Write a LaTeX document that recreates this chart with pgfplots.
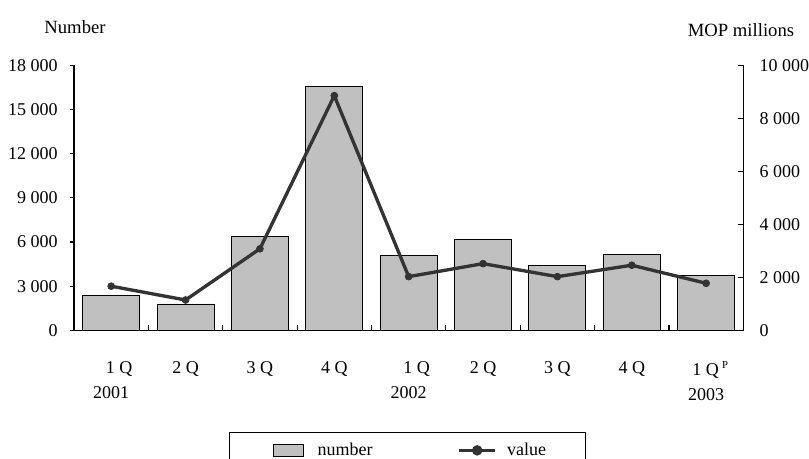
\documentclass[border=0pt]{standalone}
\usepackage{pgfplots}
\pgfplotsset{compat=1.18}
\usepackage{fontspec}
\setmainfont{Liberation Serif}

\definecolor{barfill}{HTML}{C0C0C0}
\definecolor{linecol}{HTML}{333333}

\begin{document}
\begin{tikzpicture}[font=\fontsize{13.5}{16}\selectfont]
% bars: number (left axis)
\begin{axis}[
  at={(0,0)}, anchor=south west,
  scale only axis, width=502pt, height=199pt,
  xmin=-0.5, xmax=8.5, ymin=0, ymax=18000,
  enlargelimits=false,
  axis y line*=left, axis x line*=bottom,
  axis line style={black, line width=0.9pt},
  tick align=outside, major tick length=3pt,
  tick style={black, line width=0.9pt},
  xtick={0,...,8},
  xticklabels={{\hspace*{12pt}1 Q\\2001},{2 Q},{3 Q},{4 Q},{\hspace*{12pt}1 Q\\2002},{2 Q},{3 Q},{4 Q},{\hspace*{6pt}1 Q\hspace{2.5pt}\raisebox{5pt}{\fontsize{8}{8}\selectfont P}\\2003}},
  x tick style={draw=none},
  x tick label style={align=center, font=\fontsize{13.5}{18.75}\selectfont, yshift=-17pt},
  ytick={0,3000,...,18000},
  y tick label style={xshift=-5.7pt},
  scaled y ticks=false,
  /pgf/number format/assume math mode=true,
  /pgf/number format/1000 sep={\ },
  ticklabel style={font=\fontsize{13.5}{16}\selectfont},
]
\addplot[ybar, bar width=42.75pt, bar shift=0pt, fill=barfill, draw=black, line width=0.7pt]
  coordinates {
  (0, 2360) (1, 1800) (2, 6360) (3, 16540) (4, 5120)
  (5, 6190) (6, 4380) (7, 5140) (8, 3700)
  };
\end{axis}

% line: value (right axis)
\begin{axis}[
  at={(0,0)}, anchor=south west,
  scale only axis, width=502pt, height=199pt,
  xmin=-0.5, xmax=8.5, ymin=0, ymax=10000,
  enlargelimits=false,
  axis y line*=right, axis x line*=bottom,
  axis line style={black, line width=0.9pt},
  tick align=inside, major tick length=4pt,
  tick style={black, line width=0.9pt},
  xtick={0.5,1.5,...,7.5}, xticklabels={},
  ytick={0,2000,...,10000},
  y tick label style={xshift=8.7pt},
  scaled y ticks=false,
  /pgf/number format/assume math mode=true,
  /pgf/number format/1000 sep={\ },
  ticklabel style={font=\fontsize{13.5}{16}\selectfont},
  legend columns=4,
  legend style={at={(axis description cs:0.2316,-0.3824)}, anchor=north west,
    draw=black, line width=0.75pt, inner xsep=0pt, inner ysep=8pt,
    column sep=0pt, nodes={inner sep=0pt},
    font=\fontsize{13.5}{16}\selectfont},
]
\addlegendimage{legend image code/.code={
  \path[draw=none, fill=none] (0pt,0pt) -- (66pt,0pt);
  \draw[fill=barfill, draw=black, line width=0.6pt] (33pt,-4.5pt) rectangle (55.5pt,4.5pt);}}
\addlegendentry{\makebox[105pt][l]{number}}
\addplot[color=linecol, line width=2.5pt, mark=*, mark size=2.6pt,
  mark options={fill=linecol, draw=linecol, line width=0.5pt},
  legend image code/.code={
    \path[draw=none, fill=none] (0pt,0pt) -- (36pt,0pt);
    \draw[linecol, line width=2.5pt] (0pt,0pt) -- (27pt,0pt);
    \fill[linecol] (13.5pt,0pt) circle (2.6pt);}]
  coordinates {
  (0, 1670) (1, 1150) (2, 3080) (3, 8850) (4, 2030)
  (5, 2520) (6, 2030) (7, 2460) (8, 1780)
  };
\addlegendentry{\makebox[58.5pt][l]{value}}
\end{axis}

\node[anchor=base, font=\fontsize{14}{16}\selectfont] at (0.75pt,223.1pt) {Number};
\node[anchor=base, font=\fontsize{14}{16}\selectfont] at (500.25pt,220.5pt) {MOP millions};

\pgfresetboundingbox
\useasboundingbox (-55.5pt,-95.625pt) rectangle (551.25pt,247.875pt);
\end{tikzpicture}
\end{document}
